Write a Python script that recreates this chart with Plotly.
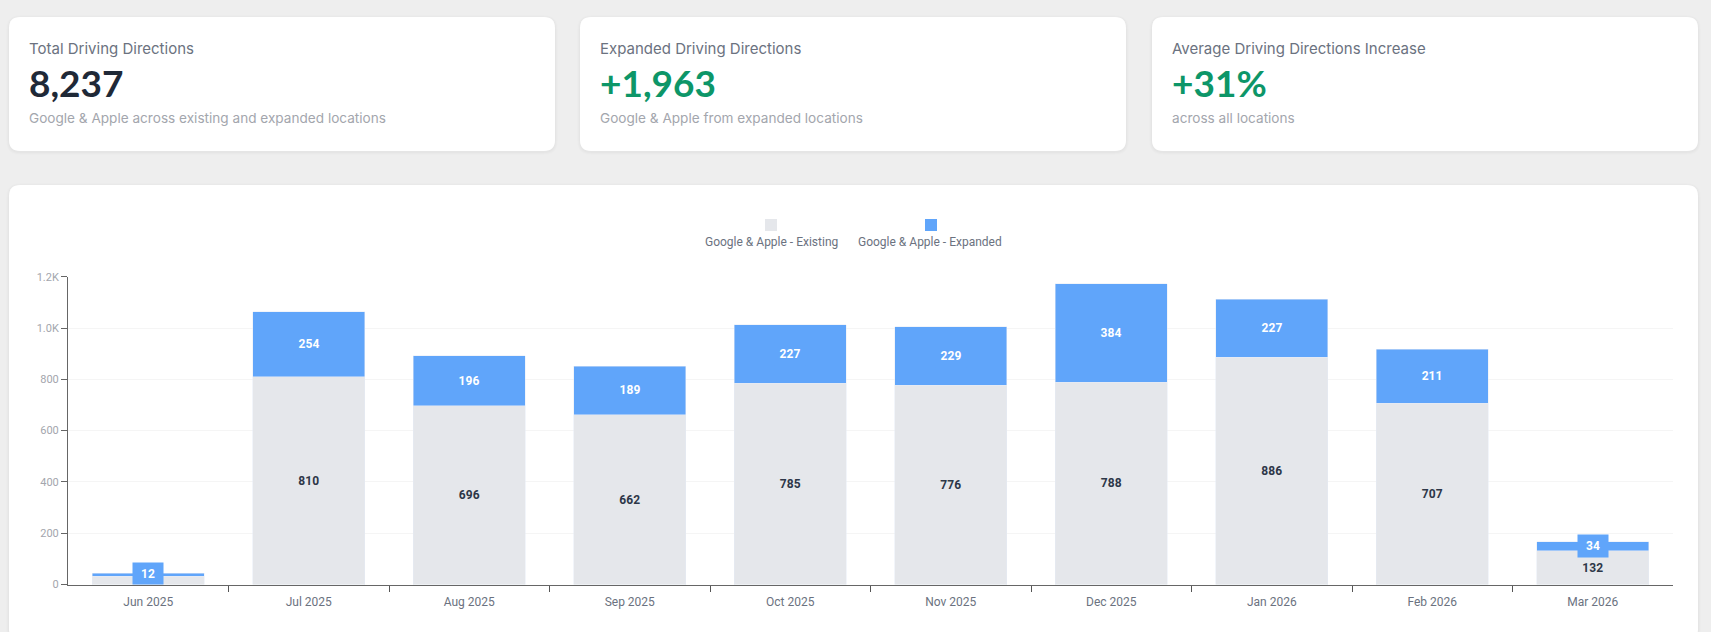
import plotly.graph_objects as go

W, H = 1711, 632

months = ['Jun 2025', 'Jul 2025', 'Aug 2025', 'Sep 2025', 'Oct 2025',
          'Nov 2025', 'Dec 2025', 'Jan 2026', 'Feb 2026', 'Mar 2026']
existing = [32, 810, 696, 662, 785, 776, 788, 886, 707, 132]
expanded = [12, 254, 196, 189, 227, 229, 384, 227, 211, 34]

y_ticks = [0, 200, 400, 600, 800, 1000, 1200]
y_labels = ['0', '200', '400', '600', '800', '1.0K', '1.2K']

kpi_titles = ['Total Driving Directions', 'Expanded Driving Directions', 'Average Driving Directions Increase']
kpi_values = ['8,237', '+1,963', '+31%']
kpi_notes = ['Google & Apple across existing and expanded locations',
             'Google & Apple from expanded locations',
             'across all locations']
kpi_colors = ['#1f2937', '#0d9668', '#0d9668']

legend_names = ['Google & Apple - Existing', 'Google & Apple - Expanded']

GREY = '#e5e7eb'
BLUE = '#60a5fa'


def px(x):
    return x / W


def py(y):
    return 1 - y / H


def round_rect(x0, y0, x1, y1, r=11):
    # rounded card, in pixels from the top left of the page
    return (f'M {px(x0 + r)} {py(y0)} L {px(x1 - r)} {py(y0)} '
            f'Q {px(x1)} {py(y0)} {px(x1)} {py(y0 + r)} L {px(x1)} {py(y1 - r)} '
            f'Q {px(x1)} {py(y1)} {px(x1 - r)} {py(y1)} L {px(x0 + r)} {py(y1)} '
            f'Q {px(x0)} {py(y1)} {px(x0)} {py(y1 - r)} L {px(x0)} {py(y0 + r)} '
            f'Q {px(x0)} {py(y0)} {px(x0 + r)} {py(y0)} Z')


def card(x0, y0, x1, y1):
    out = []
    for grow, alpha in [(3, 0.006), (2, 0.01), (1, 0.015)]:
        out.append(dict(type='path', xref='paper', yref='paper', layer='below',
                        path=round_rect(x0 - grow, y0 - grow + 1, x1 + grow, y1 + grow + 1, 11 + grow),
                        fillcolor=f'rgba(0,0,0,{alpha})', line_width=0))
    out.append(dict(type='path', xref='paper', yref='paper', layer='below',
                    path=round_rect(x0, y0, x1, y1), fillcolor='white', line_width=0))
    return out


shapes = []
card_lefts = [9, 580, 1152]
for left in card_lefts:
    shapes += card(left, 17, left + 546, 151)
shapes += card(9, 185, 1698, 640)

annotations = []


def page_text(x, y, text, size, color, family, anchor='left', bold=False):
    annotations.append(dict(xref='paper', yref='paper', x=px(x), y=py(y), text=f'<b>{text}</b>' if bold else text,
                            showarrow=False, xanchor=anchor, yanchor='middle',
                            font=dict(size=size, color=color, family=family)))


for i in range(3):
    left = card_lefts[i] + 18
    page_text(left, 49, kpi_titles[i], 15, '#6b7280', 'Inter')
    page_text(left, 82, kpi_values[i], 37, kpi_colors[i], 'Lato', bold=True)
    page_text(left, 118, kpi_notes[i], 13.6, '#a3a6ad', 'Inter')

# legend has the swatch sitting above the name
for name, col, cx, sx in zip(legend_names, [GREY, BLUE], [771, 930.5], [771, 931]):
    shapes.append(dict(type='rect', xref='paper', yref='paper', layer='below', line_width=0, fillcolor=col,
                       x0=px(sx - 6), x1=px(sx + 6), y0=py(231), y1=py(219)))
    page_text(cx, 242.5, name, 12, '#6b7280', 'Roboto', anchor='center')

# labels of the expanded part carry a blue box of their own
for i, (e, v) in enumerate(zip(existing, expanded)):
    annotations.append(dict(x=i, y=e + v / 2, xref='x', yref='y', text=f'<b>{v}</b>', showarrow=False,
                            width=30, height=22 if e + v / 2 > 50 else 21, bgcolor=BLUE, borderpad=0,
                            yshift=0 if e + v / 2 > 50 else 1.5,
                            font=dict(size=12, color='white', family='Roboto')))

fig = go.Figure()
fig.add_trace(go.Bar(x=list(range(len(months))), y=existing, name=legend_names[0], marker_color=GREY,
                     text=['' if e < 50 else f'<b>{e}</b>' for e in existing], textposition='inside',
                     insidetextanchor='middle', textangle=0, constraintext='none',
                     textfont=dict(size=12, color='#2d3748', family='Roboto')))
fig.add_trace(go.Bar(x=list(range(len(months))), y=expanded, name=legend_names[1], marker_color=BLUE))

fig.update_layout(
    width=W,
    height=H,
    margin=dict(l=0, r=0, t=0, b=0),
    paper_bgcolor='#eeeeee',
    plot_bgcolor='rgba(0,0,0,0)',
    barmode='stack',
    bargap=0.3,
    showlegend=False,
    shapes=shapes,
    annotations=annotations,
    font=dict(family='Roboto'),
    xaxis=dict(
        automargin=False,
        domain=[px(68), px(1673)],
        range=[-0.5, len(months) - 0.5],
        tickvals=list(range(len(months))),
        ticktext=months,
        ticks='',
        ticklabelstandoff=6,
        tickfont=dict(size=12, color='#6b7280'),
        showgrid=False,
        zeroline=False,
        showline=True,
        linecolor='#666666',
        linewidth=1,
        minor=dict(tickvals=[i + 0.5 for i in range(len(months) - 1)], ticks='outside',
                   ticklen=6, tickcolor='#555555', showgrid=False),
    ),
    yaxis=dict(
        automargin=False,
        domain=[py(584.5), py(276.7)],
        range=[0, 1200],
        tickvals=y_ticks,
        ticktext=y_labels,
        ticks='outside',
        ticklen=6,
        tickcolor='#666666',
        tickfont=dict(size=11, color='#a3a6ad'),
        gridcolor='#f5f5f5',
        zeroline=False,
        showline=True,
        linecolor='#666666',
        linewidth=1,
    ),
)

fig.write_html('out.html', config=dict(displayModeBar=False),
               post_script="document.body.style.margin='0';document.body.style.overflow='hidden';")
